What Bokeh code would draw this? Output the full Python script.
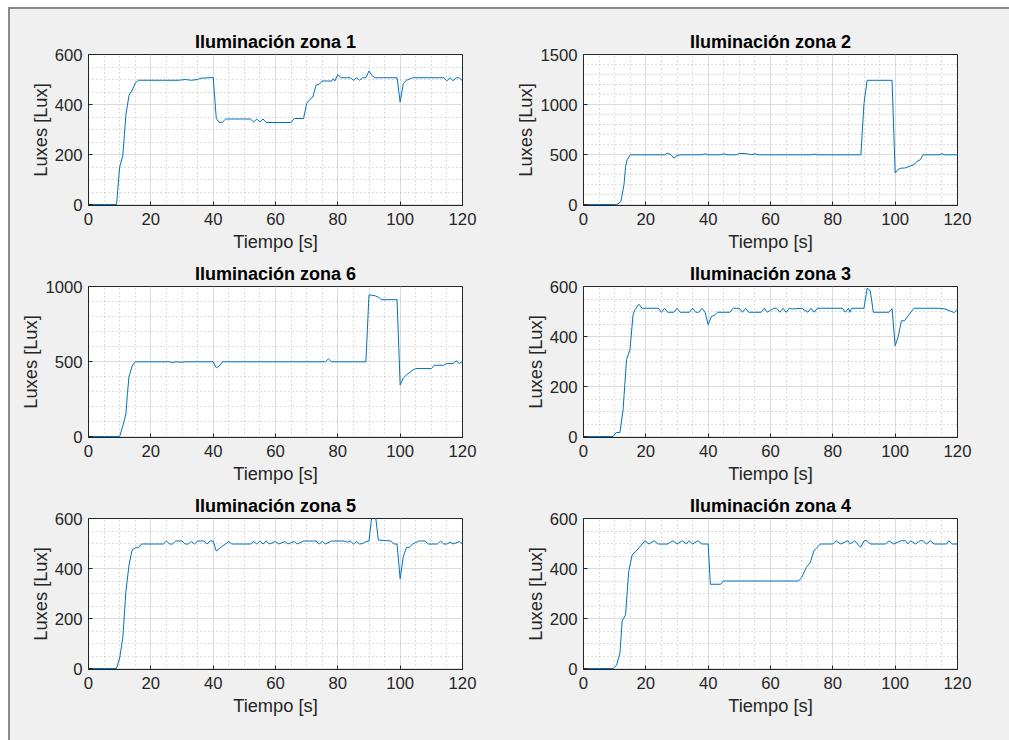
from bokeh.plotting import figure
from bokeh.layouts import column, row
from bokeh.models import Div, Range1d, SingleIntervalTicker
from bokeh.embed import file_html
from bokeh.resources import INLINE

# ---------------- data ----------------
titles = ["Iluminación zona 1", "Iluminación zona 2", "Iluminación zona 6",
          "Iluminación zona 3", "Iluminación zona 5", "Iluminación zona 4"]
x_label = "Tiempo [s]"
y_label = "Luxes [Lux]"
x_ticks_interval = 20

t1 = [1, 9, 10, 11, 12, 13, 14, 15, 16, 29, 31, 33, 35, 36, 40, 41, 42, 43, 44, 52, 53, 54, 55, 56, 57, 65, 66, 69,
      70, 71, 72, 73, 74, 75, 78, 78.5, 79, 80, 81, 84, 85, 86, 87, 88, 89, 90, 91, 92, 99, 100, 101, 102, 104, 114,
      115, 116, 117, 118, 119, 120]
v1 = [0, 0, 150, 195, 358, 437, 457, 486, 497, 497, 500, 497, 500, 505, 508, 344, 327, 330, 342, 342, 330, 342, 330,
      342, 328, 328, 344, 344, 404, 420, 430, 477, 481, 494, 494, 503, 494, 520, 507, 507, 497, 507, 497, 507, 507, 534,
      515, 507, 507, 410, 483, 497, 507, 507, 495, 507, 495, 507, 507, 494]

t2 = [1, 10, 11, 12, 13, 13.5, 14, 15, 26, 27, 28, 29, 30, 31, 38, 39, 40, 44, 45, 46, 49, 50, 52, 53, 54, 55, 56, 73,
      74, 75, 89, 90, 91, 99, 100, 101, 102, 103, 106, 107, 108, 109, 114, 115, 116, 120]
v2 = [0, 0, 5, 30, 200, 380, 447, 497, 497, 513, 500, 464, 490, 497, 497, 507, 497, 497, 507, 497, 497, 510, 510, 503,
      497, 507, 497, 497, 503, 497, 497, 1010, 1242, 1242, 315, 354, 364, 364, 397, 430, 447, 497, 497, 507, 497, 497]

t6 = [1, 10, 11, 12, 12.5, 13, 14, 15, 26, 27, 28, 30, 31, 40, 41, 42, 43, 76, 77, 78, 89, 90, 92, 93, 94, 99, 100,
      101, 102, 104, 105, 110, 111, 114, 115, 117, 118, 119, 120]
v6 = [0, 0, 70, 150, 288, 400, 470, 498, 498, 492, 498, 495, 498, 498, 458, 470, 498, 498, 518, 498, 498, 945, 938,
      929, 912, 912, 343, 390, 410, 442, 453, 453, 475, 475, 487, 487, 504, 487, 500]

t3 = [1, 9.5, 10.5, 11.7, 12.7, 13.8, 14.9, 15.9, 16.5, 17.8, 18.8, 24, 25, 26, 27, 29, 30, 31, 34, 35, 36, 37, 38,
      39, 40, 41, 42, 43, 47, 48, 50, 51, 52, 53, 57, 58, 59, 61, 62, 63, 64, 65, 66, 67, 70, 72, 73, 74, 75, 83, 84,
      85, 85.5, 86, 90, 91, 92, 93, 98, 99, 100, 101, 102, 103, 106, 114, 116, 118, 119, 120]
v3 = [0, 0, 16, 16, 107, 307, 347, 487, 507, 529, 513, 513, 497, 513, 497, 497, 513, 497, 497, 513, 497, 497, 513,
      497, 447, 480, 485, 497, 497, 513, 513, 497, 513, 497, 497, 513, 497, 513, 513, 497, 513, 497, 513, 510, 513,
      497, 513, 497, 513, 513, 497, 513, 497, 513, 513, 593, 584, 497, 497, 511, 363, 400, 463, 463, 513, 513, 510,
      500, 496, 509]

t5 = [1, 9, 10, 11, 12, 13, 14, 15, 16, 17, 24, 25, 26, 27, 28, 30, 31, 32, 33, 34, 35, 37, 38, 39, 40, 41, 43, 44,
      45, 46, 52, 53, 54, 55, 56, 57, 58, 60, 61, 63, 64, 66, 67, 69, 73, 74, 75, 76, 78, 82, 83, 84, 85, 86, 87, 88,
      89, 90, 91, 92, 93, 97, 98, 99, 100, 101, 102, 103, 104, 106, 108, 109, 112, 113, 114, 115, 116, 117, 119, 120]
v5 = [0, 0, 42, 122, 308, 414, 474, 483, 483, 498, 498, 510, 498, 498, 510, 510, 498, 498, 508, 498, 510, 510, 498,
      510, 510, 470, 490, 498, 508, 498, 498, 508, 498, 510, 498, 510, 498, 508, 498, 508, 498, 508, 498, 510, 510,
      498, 508, 498, 510, 510, 505, 510, 498, 508, 498, 500, 508, 510, 620, 620, 514, 510, 498, 498, 359, 448, 483,
      485, 498, 510, 510, 498, 498, 510, 498, 498, 505, 498, 508, 498]

t4 = [1, 9.5, 10.6, 11.7, 12.4, 13.5, 14.5, 15.6, 17.2, 19.7, 21, 22.6, 24, 27, 28.7, 30, 31.7, 33, 33.8, 35, 36.7,
      38, 40, 40.7, 44, 44.8, 69, 70, 71.5, 72.8, 73.9, 76, 80, 81, 82.5, 84.8, 85.6, 87, 88.9, 90, 91, 92, 97, 98,
      99.5, 102, 103.3, 104, 105, 106.5, 108, 109, 110, 111.3, 112.5, 116.5, 117.2, 118.3, 120]
v4 = [0, 0, 13, 62, 189, 215, 388, 454, 474, 511, 498, 511, 498, 498, 511, 498, 511, 498, 511, 498, 511, 498, 498,
      337, 337, 350, 350, 364, 404, 425, 470, 498, 498, 511, 498, 511, 498, 511, 485, 511, 511, 498, 498, 511, 498,
      511, 511, 498, 511, 498, 511, 511, 498, 511, 498, 498, 511, 498, 498]

series = [(t1, v1), (t2, v2), (t6, v6), (t3, v3), (t5, v5), (t4, v4)]
y_max = [600, 1500, 1000, 600, 600, 600]
y_major = [200, 500, 500, 200, 200, 200]
y_minor = [4, 5, 5, 4, 4, 4]

# ---------------- styling ----------------
FONT = "Liberation Sans"
BG = "#f0f0f0"
AX = "#262626"
LINE = "#0072BD"

col_borders = [(78, 43), (78, 52)]            # left, right
row_borders = [(45, 53), (27, 53), (27, 72)]  # top, bottom
FW, FH = 374, 151


def make(i):
    c = i % 2
    r = i // 2
    t, v = series[i]
    # start the y range ~1 px below zero so the zero-level trace shows above the axis line
    y0 = -y_max[i] / FH
    p = figure(frame_width=FW, frame_height=FH,
               min_border_left=col_borders[c][0], min_border_right=col_borders[c][1],
               min_border_top=row_borders[r][0], min_border_bottom=row_borders[r][1],
               x_range=Range1d(0, 120), y_range=Range1d(y0, y_max[i]),
               output_backend="svg", toolbar_location=None, title=titles[i])
    p.border_fill_color = BG
    p.background_fill_color = "white"
    p.outline_line_color = AX
    p.outline_line_width = 1
    p.outline_line_alpha = 1

    p.title.text_font = FONT
    p.title.text_font_size = "18px"
    p.title.text_font_style = "bold"
    p.title.text_color = "#000000"
    p.title.align = "center"
    p.title.standoff = 6

    p.xaxis.ticker = SingleIntervalTicker(interval=x_ticks_interval, num_minor_ticks=4)
    p.yaxis.ticker = SingleIntervalTicker(interval=y_major[i], num_minor_ticks=y_minor[i])

    for ax in (p.xaxis[0], p.yaxis[0]):
        ax.axis_line_color = AX
        ax.major_tick_line_color = AX
        ax.major_tick_in = 4
        ax.major_tick_out = 0
        ax.minor_tick_in = 0
        ax.minor_tick_out = 0
        ax.major_label_text_font = FONT
        ax.major_label_text_font_size = "16.7px"
        ax.major_label_text_color = AX
        ax.axis_label_text_font = FONT
        ax.axis_label_text_font_size = "18.3px"
        ax.axis_label_text_font_style = "normal"
        ax.axis_label_text_color = AX

    p.xaxis.axis_label = x_label
    p.yaxis.axis_label = y_label
    p.xaxis.major_label_standoff = 7
    p.yaxis.major_label_standoff = 6
    p.xaxis.axis_label_standoff = 3
    p.yaxis.axis_label_standoff = 1

    for g in (p.xgrid[0], p.ygrid[0]):
        g.grid_line_color = "#dcdcdc"
        g.grid_line_width = 1
        g.minor_grid_line_color = "#b8b8b8"
        g.minor_grid_line_dash = "1 3"
        g.minor_grid_line_width = 1

    p.line(t, v, line_color=LINE, line_width=1)
    return p


figs = [make(i) for i in range(6)]
bgstyle = {"background-color": BG}
grid = column(row(figs[0], figs[1], styles=bgstyle),
              row(figs[2], figs[3], styles=bgstyle),
              row(figs[4], figs[5], styles=bgstyle),
              styles=bgstyle)

GREY = "#8a8a8a"


def block(w, h, color):
    return Div(text="", width=w, height=h, margin=0,
               styles={"background-color": color})


layout = column(
    block(1009, 7, "white"),
    row(block(8, 2, "white"), block(1001, 2, GREY)),
    row(block(8, 731, "white"), block(2, 731, GREY), grid),
)

open("out.html", "w").write(file_html(layout, INLINE))
